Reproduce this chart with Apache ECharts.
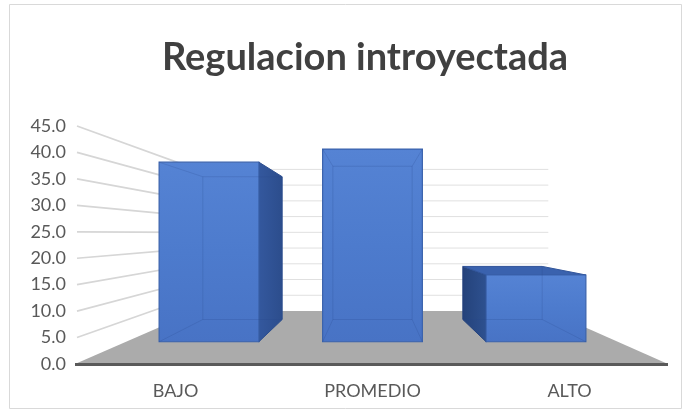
<!DOCTYPE html>
<html>
<head>
<meta charset="utf-8">
<script src="https://cdn.jsdelivr.net/npm/echarts@6/dist/echarts.min.js"></script>
<style>
  html, body { margin: 0; padding: 0; background: #ffffff; }
  #chart { width: 687px; height: 413px; }
</style>
</head>
<body>
<div id="chart"></div>
<script>
// ---- data ----
const titleText = 'Regulacion introyectada';
const categories = ['BAJO', 'PROMEDIO', 'ALTO'];
const values = [40.9, 43.9, 15.2];
const valueTicks = [0, 5, 10, 15, 20, 25, 30, 35, 40, 45];

// ---- pseudo-3D perspective settings (scale factor per depth, 1 = front edge of floor) ----
const depth = { barFront: 0.83, barBack: 0.66, wall: 0.595 };
const horizonFrac = 0.45;   // horizon position as a fraction of the plot height
const barFill = 0.61;       // bar width as a fraction of the category band

function projector(cs) {
  const cx = cs.x + cs.width / 2;
  const hy = cs.y + cs.height * horizonFrac;
  return {
    cx: cx,
    hy: hy,
    p: (pt, s) => [cx + (pt[0] - cx) * s, hy + (pt[1] - hy) * s]
  };
}

function renderWalls(params, api) {
  const cs = params.coordSys;
  const pr = projector(cs);
  const v = api.value(1);
  const y = api.coord([0, v])[1];
  const x0 = cs.x, x1 = cs.x + cs.width;
  const bl = pr.p([x0, y], depth.wall);
  const br = pr.p([x1, y], depth.wall);
  const children = [];
  if (v === 0) {
    children.push({
      type: 'polygon',
      shape: { points: [[x0 - 2, y], [x1, y], br, bl] },
      style: { fill: '#ababab' }
    });
    children.push({
      type: 'line',
      shape: { x1: x0 - 2, y1: y + 0.5, x2: x1, y2: y + 0.5 },
      style: { stroke: '#5a5a5a', lineWidth: 3 }
    });
  } else {
    children.push({
      type: 'line',
      shape: { x1: x0, y1: y, x2: bl[0], y2: bl[1] },
      style: { stroke: '#d6d6d6', lineWidth: 1.7 }
    });
    children.push({
      type: 'line',
      shape: { x1: bl[0], y1: bl[1], x2: br[0], y2: br[1] },
      style: { stroke: '#e0e0e0', lineWidth: 1 }
    });
  }
  return { type: 'group', children: children };
}

function renderBar(params, api) {
  const cs = params.coordSys;
  const pr = projector(cs);
  const top = api.coord([api.value(0), api.value(1)]);
  const base = api.coord([api.value(0), 0]);
  const bw = api.size([1, 0])[0] * barFill;
  const L = top[0] - bw / 2, R = top[0] + bw / 2, T = top[1], B = base[1];
  const sf = depth.barFront, sb = depth.barBack;
  const fTL = pr.p([L, T], sf), fTR = pr.p([R, T], sf), fBL = pr.p([L, B], sf), fBR = pr.p([R, B], sf);
  const kTL = pr.p([L, T], sb), kTR = pr.p([R, T], sb), kBL = pr.p([L, B], sb), kBR = pr.p([R, B], sb);
  const children = [];
  const edge = '#3a62ac';

  // side face
  if (R < pr.cx - 1) {
    children.push({
      type: 'polygon',
      shape: { points: [fTR, kTR, kBR, fBR] },
      style: {
        fill: new echarts.graphic.LinearGradient(0, 0, 1, 0, [
          { offset: 0, color: '#34589e' }, { offset: 1, color: '#2c4d8c' }
        ]),
        stroke: '#2d4f8f', lineWidth: 1
      }
    });
  } else if (L > pr.cx + 1) {
    children.push({
      type: 'polygon',
      shape: { points: [fTL, kTL, kBL, fBL] },
      style: {
        fill: new echarts.graphic.LinearGradient(0, 0, 1, 0, [
          { offset: 0, color: '#24427a' }, { offset: 1, color: '#2e5190' }
        ]),
        stroke: '#24427a', lineWidth: 1
      }
    });
  }
  // top face, visible when the top sits below the horizon
  if (fTL[1] > pr.hy) {
    children.push({
      type: 'polygon',
      shape: { points: [fTL, fTR, kTR, kTL] },
      style: { fill: '#3a62ae', stroke: '#34599f', lineWidth: 1 }
    });
  }
  // front face
  children.push({
    type: 'polygon',
    shape: { points: [fTL, fTR, fBR, fBL] },
    style: {
      fill: new echarts.graphic.LinearGradient(0, 0, 0, 1, [
        { offset: 0, color: '#5583d4' },
        { offset: 0.5, color: '#4d7bcd' },
        { offset: 1, color: '#4873c5' }
      ]),
      stroke: edge, lineWidth: 1.2
    }
  });
  // hidden edges seen through the translucent box
  const ghost = { stroke: 'rgba(40,75,140,0.22)', lineWidth: 1, fill: null };
  children.push({ type: 'polyline', shape: { points: [kBL, kTL, kTR, kBR, kBL] }, style: ghost });
  children.push({ type: 'line', shape: { x1: fTL[0], y1: fTL[1], x2: kTL[0], y2: kTL[1] }, style: ghost });
  children.push({ type: 'line', shape: { x1: fTR[0], y1: fTR[1], x2: kTR[0], y2: kTR[1] }, style: ghost });
  children.push({ type: 'line', shape: { x1: fBL[0], y1: fBL[1], x2: kBL[0], y2: kBL[1] }, style: ghost });
  children.push({ type: 'line', shape: { x1: fBR[0], y1: fBR[1], x2: kBR[0], y2: kBR[1] }, style: ghost });
  return { type: 'group', children: children };
}

const chart = echarts.init(document.getElementById('chart'), null, { renderer: 'canvas' });
chart.setOption({
  animation: false,
  backgroundColor: '#ffffff',
  graphic: [
    {
      type: 'rect',
      shape: { x: 9.5, y: 4.5, width: 672, height: 404 },
      style: { fill: null, stroke: '#d9d9d9', lineWidth: 1 },
      silent: true
    },
    {
      type: 'text',
      x: 365, y: 58,
      style: {
        text: titleText,
        textAlign: 'center',
        textVerticalAlign: 'middle',
        font: 'bold 38px Lato',
        fill: '#404040'
      }
    }
  ],
  grid: { left: 77, right: 19, top: 126, bottom: 49 },
  xAxis: {
    type: 'category',
    data: categories,
    axisLine: { show: false },
    axisTick: { show: false },
    axisLabel: { color: '#595959', fontFamily: 'Lato', fontSize: 18, margin: 18 },
    splitLine: { show: false }
  },
  yAxis: {
    type: 'value',
    min: valueTicks[0],
    max: valueTicks[valueTicks.length - 1],
    interval: valueTicks[1] - valueTicks[0],
    axisLine: { show: false },
    axisTick: { show: false },
    splitLine: { show: false },
    axisLabel: {
      color: '#595959', fontFamily: 'Lato', fontSize: 18, margin: 11,
      formatter: (v) => v.toFixed(1)
    }
  },
  series: [
    {
      type: 'custom',
      name: 'walls',
      z: 1,
      silent: true,
      renderItem: renderWalls,
      data: valueTicks.map((v) => [0, v])
    },
    {
      type: 'custom',
      name: titleText,
      z: 5,
      renderItem: renderBar,
      data: values.map((v, i) => [i, v])
    }
  ]
});
</script>
</body>
</html>
